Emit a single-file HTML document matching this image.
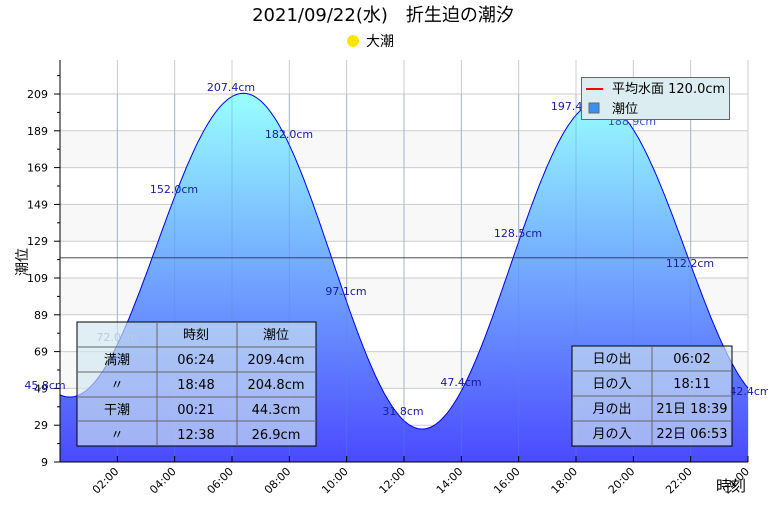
<!DOCTYPE html>
<html><head><meta charset="utf-8"><style>
body{margin:0;background:#fff;}
svg text{font-family:"DejaVu Sans","Noto Sans CJK JP",sans-serif;}
</style></head><body>
<svg id="s" width="768" height="512" xmlns="http://www.w3.org/2000/svg">
<defs>
<linearGradient id="g" x1="0" y1="94" x2="0" y2="462" gradientUnits="userSpaceOnUse">
<stop offset="0" stop-color="#98ffff"/><stop offset="1" stop-color="#4a4aff"/></linearGradient>
</defs>
<rect x="60" y="60" width="688" height="402" fill="#fff"/>
<g fill="#f8f8f8">
<rect x="60" y="130.8" width="688" height="36.8"/>
<rect x="60" y="204.4" width="688" height="36.8"/>
<rect x="60" y="278" width="688" height="36.8"/>
<rect x="60" y="351.6" width="688" height="36.8"/>
</g>
<g id="grid" stroke="#cccccc" stroke-width="1"></g>
<path id="area" fill="url(#g)" stroke="none"/>
<path id="line" fill="none" stroke="#0000ee" stroke-width="1"/>
<g id="gridover" stroke="#5a8ad0" stroke-opacity="0.35" stroke-width="1"></g>
<line x1="60" y1="257.8" x2="748" y2="257.8" stroke="#333" stroke-width="0.8"/>
<line x1="60" y1="60" x2="60" y2="462" stroke="#000"/>
<line x1="60" y1="462" x2="748" y2="462" stroke="#000"/>
<g id="ticks" stroke="#000"></g>
<g id="labels" font-size="11" fill="#000"></g>
<g font-size="11" fill="#1a1aa0">
<text x="45" y="389" text-anchor="middle">45.8cm</text>
<text x="117" y="341" text-anchor="middle" fill="#8899cc">72.0cm</text>
<text x="174" y="193" text-anchor="middle">152.0cm</text>
<text x="231" y="91" text-anchor="middle">207.4cm</text>
<text x="289" y="138" text-anchor="middle">182.0cm</text>
<text x="346" y="295" text-anchor="middle">97.1cm</text>
<text x="403" y="415" text-anchor="middle">31.8cm</text>
<text x="461" y="386" text-anchor="middle">47.4cm</text>
<text x="518" y="237" text-anchor="middle">128.5cm</text>
<text x="575" y="110" text-anchor="middle">197.4cm</text>
<text x="632" y="125" text-anchor="middle" fill="#3355bb">188.9cm</text>
<text x="690" y="267" text-anchor="middle">112.2cm</text>
<text x="750" y="395" text-anchor="middle">42.4cm</text>
</g>
<text x="383" y="21" font-size="18" text-anchor="middle">2021/09/22(水)　折生迫の潮汐</text>
<circle cx="353" cy="41" r="6" fill="#ffe400"/>
<text x="366" y="46" font-size="14">大潮</text>
<text transform="translate(27,262) rotate(-90)" font-size="14" text-anchor="middle">潮位</text>
<text x="731" y="491" font-size="15" text-anchor="middle">時刻</text>
<rect x="581.5" y="77.5" width="148" height="42" fill="#dcedf2" stroke="#666"/>
<line x1="586" y1="89" x2="603" y2="89" stroke="#f00" stroke-width="2"/>
<text x="612" y="93" font-size="13">平均水面 120.0cm</text>
<rect x="589" y="103" width="10" height="10" fill="#3a8ff0" stroke="#666"/>
<text x="612" y="113" font-size="13">潮位</text>
<g font-size="13" text-anchor="middle">
<rect x="77" y="322" width="239" height="124" fill="#cfe6f0" fill-opacity="0.65" stroke="#000"/>
<g stroke="#666"><line x1="157" y1="322" x2="157" y2="446"/><line x1="237" y1="322" x2="237" y2="446"/>
<line x1="77" y1="347" x2="316" y2="347"/><line x1="77" y1="372" x2="316" y2="372"/><line x1="77" y1="397" x2="316" y2="397"/><line x1="77" y1="421" x2="316" y2="421"/></g>
<text x="196" y="339">時刻</text><text x="276" y="339">潮位</text>
<text x="117" y="364">満潮</text><text x="196" y="364">06:24</text><text x="276" y="364">209.4cm</text>
<text x="117" y="389">〃</text><text x="196" y="389">18:48</text><text x="276" y="389">204.8cm</text>
<text x="117" y="414">干潮</text><text x="196" y="414">00:21</text><text x="276" y="414">44.3cm</text>
<text x="117" y="439">〃</text><text x="196" y="439">12:38</text><text x="276" y="439">26.9cm</text>
<rect x="572" y="346" width="160" height="100" fill="#cfe6f0" fill-opacity="0.65" stroke="#000"/>
<g stroke="#666"><line x1="652" y1="346" x2="652" y2="446"/>
<line x1="572" y1="371" x2="732" y2="371"/><line x1="572" y1="396" x2="732" y2="396"/><line x1="572" y1="421" x2="732" y2="421"/></g>
<text x="612" y="363">日の出</text><text x="692" y="363">06:02</text>
<text x="612" y="388">日の入</text><text x="692" y="388">18:11</text>
<text x="612" y="413">月の出</text><text x="692" y="413">21日 18:39</text>
<text x="612" y="438">月の入</text><text x="692" y="438">22日 06:53</text>
</g>
</svg>
<script>
var X=function(h){return 60+h*688/24},Y=function(v){return 462-(v-9)*1.84};
var ns="http://www.w3.org/2000/svg";
function el(p,t,a){var e=document.createElementNS(ns,t);for(var k in a)e.setAttribute(k,a[k]);document.getElementById(p).appendChild(e);return e;}
for(var h=2;h<=24;h+=2){var x=X(h);el("grid","line",{x1:x,y1:60,x2:x,y2:462});}
for(var v=29;v<=209;v+=20){var y=Y(v);el("grid","line",{x1:60,y1:y,x2:748,y2:y});}
for(var h=2;h<24;h+=2){var x=X(h);el("gridover","line",{x1:x,y1:94,x2:x,y2:462});}
for(var v=9;v<=229;v+=10){var y=Y(v);if(y<60)continue;el("ticks","line",{x1:60,y1:y,x2:(v-9)%20==0?54:57,y2:y});}
for(var v=9;v<=209;v+=20){var t=el("labels","text",{x:48,y:Y(v)+4,"text-anchor":"end"});t.textContent=v;}
for(var h=2;h<=24;h+=2){var x=X(h);el("ticks","line",{x1:x,y1:462,x2:x,y2:456});
var t=el("labels","text",{transform:"translate("+(x+2)+",472) rotate(-45)","text-anchor":"end"});t.textContent=(h<10?"0":"")+h+":00";}
var ex=[[-5.9,195],[0.35,44.3],[6.4,209.4],[12.63,26.9],[18.8,204.8],[24.9,40.5]];
function f(t){for(var i=0;i<ex.length-1;i++){var a=ex[i],b=ex[i+1];if(t>=a[0]&&t<=b[0]){var r=(t-a[0])/(b[0]-a[0]);return a[1]+(b[1]-a[1])*(1-Math.cos(Math.PI*r))/2;}}return 40;}
var pts=[];for(var t=0;t<=24.001;t+=0.1){pts.push(X(t).toFixed(1)+","+Y(f(t)).toFixed(1));}
var d="M"+pts.join("L");
document.getElementById("line").setAttribute("d",d);
document.getElementById("area").setAttribute("d",d+"L748,462L60,462Z");
</script>
</body></html>
